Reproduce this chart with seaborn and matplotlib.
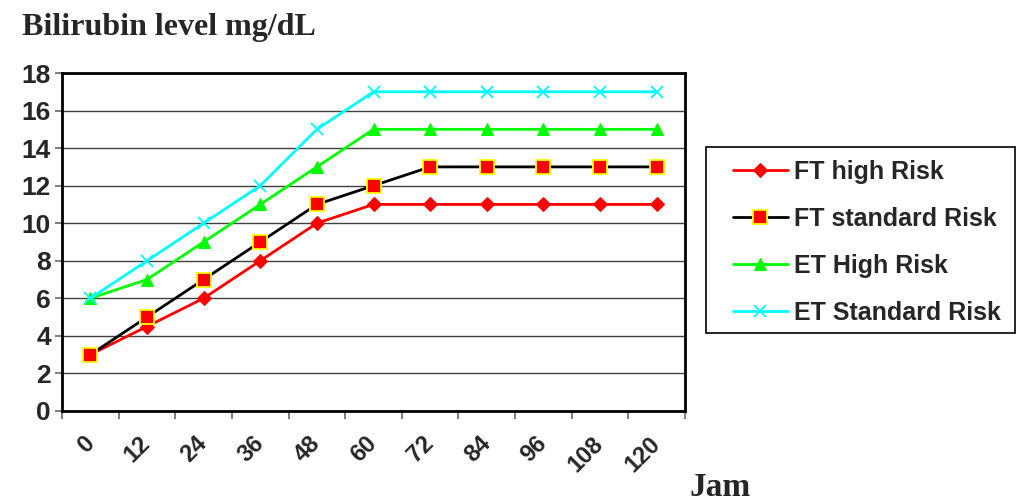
import numpy as np
import pandas as pd
import matplotlib
matplotlib.use("Agg")
import matplotlib.pyplot as plt
from matplotlib.patches import Rectangle
import seaborn as sns

jam = ["0", "12", "24", "36", "48", "60", "72", "84", "96", "108", "120"]
ft_high = [3, 4.5, 6, 8, 10, 11, 11, 11, 11, 11, 11]
ft_standard = [3, 5, 7, 9, 11, 12, 13, 13, 13, 13, 13]
et_high = [6, 7, 9, 11, 13, 15, 15, 15, 15, 15, 15]
et_standard = [6, 8, 10, 12, 15, 17, 17, 17, 17, 17, 17]

sns.set_style("white")
plt.rcParams['font.family'] = ['Liberation Sans', 'DejaVu Sans']

fig = plt.figure(figsize=(10.19, 5.03), dpi=100)
ax = fig.add_axes([62/1019, 1 - 411/503, (685-62)/1019, (411-73)/503])

pos = np.arange(len(jam))
series = [
    ("FT high Risk", ft_high, dict(color="#ff0000", marker="D", markersize=7,
                                   markerfacecolor="#ff0000", markeredgecolor="#ff0000")),
    ("FT standard Risk", ft_standard, dict(color="black", marker="s", markersize=10,
                                           markerfacecolor="#ff0000", markeredgecolor="#ffff00",
                                           markeredgewidth=1.3)),
    ("ET High Risk", et_high, dict(color="#00ff00", marker="^", markersize=9,
                                   markerfacecolor="#00ff00", markeredgecolor="#00ff00")),
    ("ET Standard Risk", et_standard, dict(color="#00ffff", marker="x", markersize=9,
                                           markeredgecolor="#00ffff", markeredgewidth=1.3)),
]
for name, vals, style in series:
    sns.lineplot(x=pos, y=vals, ax=ax, label=name, linewidth=2, **style)

ax.set_xlim(-0.5, len(jam) - 0.5)
ax.set_ylim(0, 18)
ax.set_yticks(range(0, 19, 2))
ax.yaxis.grid(True, color="0.25", linewidth=1.0)
ax.set_axisbelow(True)
for s in ax.spines.values():
    s.set_color("black")
    s.set_linewidth(2)

ax.tick_params(axis="y", which="both", left=True, length=5, width=1.2, color="0.4",
               labelsize=19, pad=3)
for lbl in ax.get_yticklabels():
    lbl.set_fontweight("bold")

# category labels at centres, tick marks at boundaries
ax.set_xticks(pos)
ax.set_xticklabels(jam, rotation=45, ha="right", va="center",
                   rotation_mode="anchor", fontsize=17, fontweight="bold")
ax.tick_params(axis="x", which="major", length=0, pad=21)
ax.set_xticks(np.arange(-0.5, len(jam), 1), minor=True)
ax.tick_params(axis="x", which="minor", bottom=True, length=6, width=1.2, color="0.4")

ax.set_xlabel("")
ax.set_ylabel("")

# legend entries without their own frame; box drawn separately
leg = ax.legend(loc="upper left", bbox_to_anchor=(720/1019, 1 - 147/503),
                bbox_transform=fig.transFigure, frameon=False,
                prop={"weight": "bold", "size": 18}, handlelength=2.2,
                labelspacing=0.92, borderpad=0.5, handletextpad=0.25,
                borderaxespad=0)
fig.add_artist(Rectangle((706/1019, 1 - 333/503), 309/1019, 186/503,
                         transform=fig.transFigure, fill=False,
                         edgecolor="black", linewidth=1.2))

fig.text(22/1019, 1 - 28/503, "Bilirubin level mg/dL", fontsize=23, fontweight="bold",
         family=["Liberation Serif", "DejaVu Serif"], ha="left", va="center")
fig.text(720/1019, 1 - 488/503, "Jam", fontsize=24, fontweight="bold",
         family=["Liberation Serif", "DejaVu Serif"], ha="center", va="center")

fig.savefig("out.png", dpi=100, facecolor="white")
